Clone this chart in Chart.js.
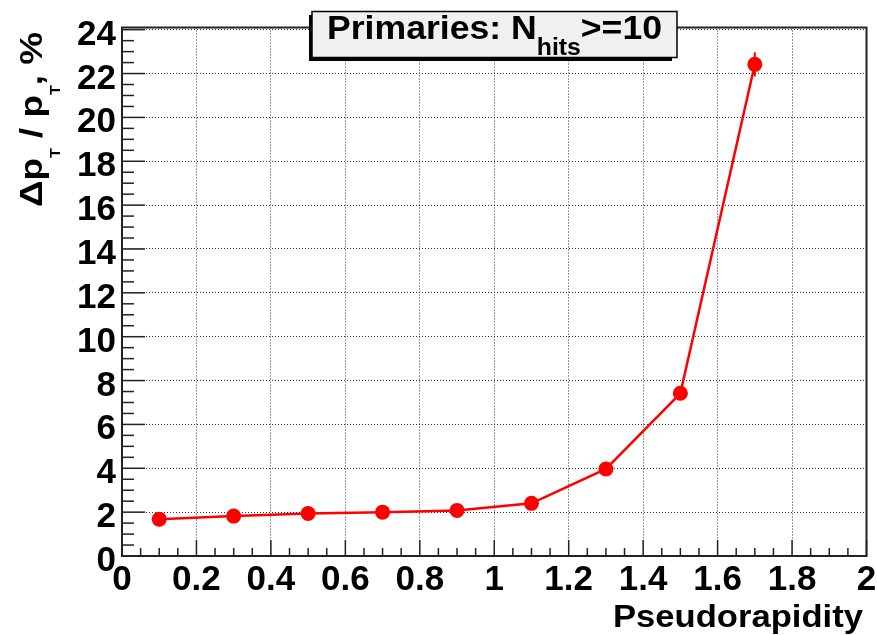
<!DOCTYPE html>
<html>
<head>
<meta charset="utf-8">
<script src="https://cdn.jsdelivr.net/npm/chart.js@4.4.1/dist/chart.umd.min.js"></script>
<style>
html, body { margin: 0; padding: 0; background: #fff; }
</style>
</head>
<body>
<canvas id="resChart" width="877" height="635"></canvas>
<script>
// pseudorapidity bins and pT resolution (%)
const etaBins = [0.1, 0.3, 0.5, 0.7, 0.9, 1.1, 1.3, 1.5, 1.7];
const resolution = [1.68, 1.82, 1.94, 2.0, 2.08, 2.4, 3.97, 7.42, 22.42];
const resolutionErr = [0.05, 0.05, 0.05, 0.05, 0.05, 0.07, 0.1, 0.15, 0.55];
const xTickLabels = ['0', '0.2', '0.4', '0.6', '0.8', '1', '1.2', '1.4', '1.6', '1.8', '2'];
const yTickLabels = ['0', '2', '4', '6', '8', '10', '12', '14', '16', '18', '20', '22', '24'];

function boldFont(size) {
    return 'bold ' + size + 'px "Liberation Sans", Arial, sans-serif';
}

// draws text pieces (with subscripts) stretched to a given width
function drawRich(ctx, parts, x, y, width, size, subSize, subDrop, rotate) {
    ctx.save();
    let natural = 0;
    parts.forEach(p => {
        ctx.font = boldFont(p.sub ? subSize : size);
        natural += ctx.measureText(p.text).width;
    });
    ctx.translate(x, y);
    if (rotate) ctx.rotate(-Math.PI / 2);
    ctx.scale(width / natural, 1);
    ctx.fillStyle = '#000';
    ctx.textAlign = 'left';
    ctx.textBaseline = 'alphabetic';
    let cx = 0;
    parts.forEach(p => {
        ctx.font = boldFont(p.sub ? subSize : size);
        ctx.fillText(p.text, cx, p.sub ? subDrop : 0);
        cx += ctx.measureText(p.text).width;
    });
    ctx.restore();
}

function drawLabel(ctx, text, x, y, align) {
    ctx.save();
    ctx.font = boldFont(35);
    ctx.fillStyle = '#000';
    ctx.textAlign = align;
    ctx.textBaseline = 'alphabetic';
    ctx.fillText(text, x, y);
    ctx.restore();
}

const errorBars = {
    id: 'errorBars',
    beforeDatasetsDraw(chart) {
        const ctx = chart.ctx;
        const xs = chart.scales.x, ys = chart.scales.y;
        ctx.save();
        ctx.strokeStyle = '#ff0000';
        ctx.lineWidth = 2;
        etaBins.forEach((x, i) => {
            const px = xs.getPixelForValue(x);
            ctx.beginPath();
            ctx.moveTo(px, ys.getPixelForValue(resolution[i] - resolutionErr[i]));
            ctx.lineTo(px, ys.getPixelForValue(resolution[i] + resolutionErr[i]));
            ctx.stroke();
        });
        ctx.restore();
    }
};

const frameAndText = {
    id: 'frameAndText',
    afterDraw(chart) {
        const ctx = chart.ctx;
        const a = chart.chartArea;
        const xs = chart.scales.x, ys = chart.scales.y;

        // inner ticks
        ctx.save();
        ctx.strokeStyle = '#222';
        ctx.lineWidth = 1.5;
        for (let k = 0; k <= 40; k++) {
            const px = xs.getPixelForValue(k * 0.05);
            const len = (k % 4 === 0) ? 16 : 8;
            ctx.beginPath();
            ctx.moveTo(px, a.bottom);
            ctx.lineTo(px, a.bottom - len);
            ctx.stroke();
        }
        for (let k = 0; k <= 48; k++) {
            const py = ys.getPixelForValue(k * 0.5);
            const len = (k % 4 === 0) ? 23 : 12;
            ctx.beginPath();
            ctx.moveTo(a.left, py);
            ctx.lineTo(a.left + len, py);
            ctx.stroke();
        }
        // frame
        ctx.lineWidth = 2;
        ctx.strokeRect(a.left, a.top, a.right - a.left, a.bottom - a.top);
        ctx.restore();

        // tick labels
        xTickLabels.forEach(t => {
            drawLabel(ctx, t, xs.getPixelForValue(parseFloat(t)), 590, 'center');
        });
        yTickLabels.forEach(t => {
            drawLabel(ctx, t, 116, ys.getPixelForValue(parseFloat(t)) + 15, 'right');
        });

        // axis titles
        drawRich(ctx, [{ text: 'Pseudorapidity' }], 613, 627, 250, 32, 22, 0, false);
        drawRich(ctx, [
            { text: '\u0394p' }, { text: 'T', sub: true }, { text: ' / p' },
            { text: 'T', sub: true }, { text: ', %' }
        ], 42, 207, 175, 32, 14, 18, true);

        // title box with shadow
        ctx.save();
        ctx.fillStyle = '#000';
        ctx.fillRect(309, 15, 363, 46);
        ctx.fillStyle = '#f0f0f0';
        ctx.fillRect(312, 11.5, 365, 46);
        ctx.strokeStyle = '#000';
        ctx.lineWidth = 1.5;
        ctx.strokeRect(312, 11.5, 365, 46);
        ctx.restore();
        drawRich(ctx, [
            { text: 'Primaries: N' }, { text: 'hits', sub: true }, { text: '>=10' }
        ], 327, 38.5, 335, 33, 23, 16, false);
    }
};

const ctx = document.getElementById('resChart').getContext('2d');
new Chart(ctx, {
    type: 'scatter',
    data: {
        datasets: [{
            label: 'Primaries',
            data: etaBins.map((x, i) => ({ x: x, y: resolution[i] })),
            showLine: true,
            borderColor: '#ff0000',
            borderWidth: 2.5,
            pointRadius: 7.5,
            pointBackgroundColor: '#ff0000',
            pointBorderWidth: 0,
            tension: 0
        }]
    },
    options: {
        responsive: false,
        animation: false,
        layout: { padding: { top: 27.5, right: 10.5, left: 0, bottom: 0 } },
        plugins: { legend: { display: false }, tooltip: { enabled: false } },
        scales: {
            x: {
                type: 'linear',
                min: 0,
                max: 2,
                ticks: { stepSize: 0.2, display: false },
                grid: { color: '#333', lineWidth: 1, drawTicks: false },
                border: { display: false, dash: [1, 2] },
                afterFit: s => { s.height = 79; }
            },
            y: {
                type: 'linear',
                min: 0,
                max: 24.1,
                ticks: { stepSize: 2, display: false, includeBounds: false },
                grid: { color: '#333', lineWidth: 1, drawTicks: false },
                border: { display: false, dash: [1, 2] },
                afterFit: s => { s.width = 122; }
            }
        }
    },
    plugins: [errorBars, frameAndText]
});
</script>
</body>
</html>
